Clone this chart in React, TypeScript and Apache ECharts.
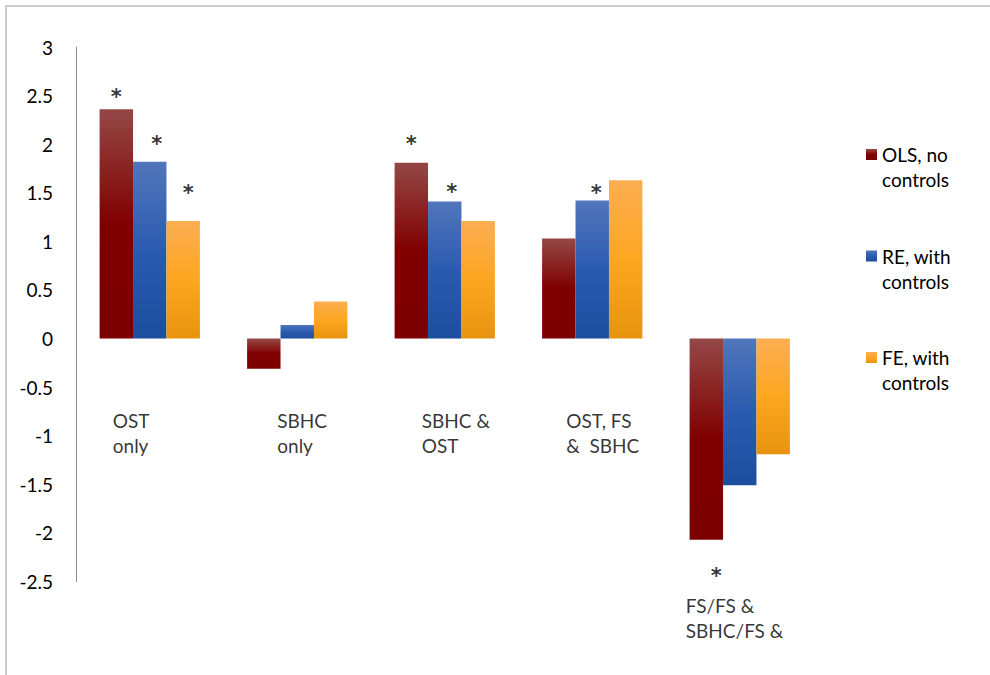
import React, { useEffect, useRef } from "react";
import * as echarts from "echarts";

const CATEGORIES = ["OST only", "SBHC only", "SBHC & OST", "OST, FS & SBHC", "FS/FS & SBHC/FS &"];
const CATEGORY_TEXT = ["OST\nonly", "SBHC\nonly", "SBHC &\nOST", "OST, FS\n&  SBHC", "FS/FS &\nSBHC/FS &"];
const CATEGORY_LABEL_Y = [-0.97, -0.97, -0.97, -0.97, -2.88];
const CATEGORY_LABEL_DX = [-37, -20, -23, -26, -54];

const SERIES_NAMES = ["OLS, no\ncontrols", "RE, with\ncontrols", "FE, with\ncontrols"];
const OLS = [2.36, -0.31, 1.81, 1.03, -2.07];
const RE = [1.82, 0.14, 1.41, 1.42, -1.51];
const FE = [1.21, 0.38, 1.21, 1.63, -1.19];

// significance asterisks (value level where the "*" sits)
const OLS_STAR: (number | null)[] = [2.54, null, 2.05, null, -2.39];
const RE_STAR: (number | null)[] = [2.05, null, 1.56, 1.55, null];
const FE_STAR: (number | null)[] = [1.55, null, null, null, null];
const OLS_STAR_DX = [0, 0, 0, 0, 10];
const RE_STAR_DX = [7, 0, 7, 4, 0];
const FE_STAR_DX = [5, 0, 0, 0, 0];

const Y_MIN = -2.5;
const Y_MAX = 3;
const Y_INTERVAL = 0.5;

const FONT = "Lato";

const grad = (c0: string, c1: string, c2: string) =>
  new echarts.graphic.LinearGradient(0, 0, 0, 1, [
    { offset: 0, color: c0 },
    { offset: 0.5, color: c1 },
    { offset: 1, color: c2 },
  ]);

export default function App() {
  const ref = useRef<HTMLDivElement>(null);
  useEffect(() => {
    if (!ref.current) return;
    const chart = echarts.init(ref.current, null, { renderer: "svg" });
    const colors = [
      grad("#944846", "#800000", "#7c0000"),
      grad("#5076bb", "#2b5bb0", "#1d4d9d"),
      grad("#fbae52", "#fda620", "#e8930e"),
    ];
    const values = [OLS, RE, FE];
    const stars = [OLS_STAR, RE_STAR, FE_STAR];
    const starDx = [OLS_STAR_DX, RE_STAR_DX, FE_STAR_DX];
    const barShift = [-33.4, 0, 33.4];

    const barSeries = SERIES_NAMES.map((name, i) => ({
      type: "bar",
      name,
      data: values[i],
      barGap: "0%",
      barCategoryGap: "32%",
      itemStyle: { color: colors[i] },
      z: 2,
    }));

    const starSeries = stars.map((arr, i) => ({
      type: "scatter",
      name: "star" + i,
      symbolSize: 0,
      clip: false,
      silent: true,
      z: 5,
      data: arr
        .map((v, j) => (v == null ? null : { value: [j, v], label: { offset: [barShift[i] + starDx[i][j], 5] } }))
        .filter((d) => d != null),
      label: {
        show: true,
        position: "inside",
        formatter: "*",
        fontFamily: "DejaVu Sans",
        fontWeight: "bold",
        fontSize: 21,
        color: "#000",
        align: "center",
        verticalAlign: "middle",
      },
    }));

    const catLabelSeries = {
      type: "scatter",
      name: "catlabels",
      symbolSize: 0,
      clip: false,
      silent: true,
      z: 5,
      data: CATEGORY_TEXT.map((t, j) => ({
        value: [j, CATEGORY_LABEL_Y[j]],
        name: t,
        label: { offset: [CATEGORY_LABEL_DX[j], 0] },
      })),
      label: {
        show: true,
        position: "inside",
        formatter: (p: any) => p.name,
        fontFamily: FONT,
        fontSize: 19,
        lineHeight: 25,
        color: "#000",
        align: "left",
        verticalAlign: "middle",
      },
    };

    const legendTops = [117, 218.5, 320];

    chart.setOption({
      animation: false,
      backgroundColor: "#fff",
      textStyle: { fontFamily: FONT },
      grid: { left: 76, top: 47, right: 176.5, bottom: 93.5, containLabel: false },
      xAxis: {
        type: "category",
        data: CATEGORIES,
        axisLine: { show: false },
        axisTick: { show: false },
        axisLabel: { show: false },
        splitLine: { show: false },
      },
      yAxis: {
        type: "value",
        min: Y_MIN,
        max: Y_MAX,
        interval: Y_INTERVAL,
        axisLine: { show: true, lineStyle: { color: "#8c8c8c", width: 1 } },
        axisTick: { show: false },
        splitLine: { show: false },
        axisLabel: { fontFamily: FONT, fontSize: 19, color: "#000", margin: 23 },
      },
      legend: SERIES_NAMES.map((n, i) => ({
        data: [n],
        orient: "vertical",
        left: 866,
        top: legendTops[i],
        padding: 0,
        itemWidth: 11,
        itemHeight: 11,
        itemGap: 0,
        icon: "rect",
        selectedMode: false,
        formatter: (name: string) => "\n" + name,
        textStyle: {
          fontFamily: FONT,
          fontSize: 19,
          color: "#000",
          lineHeight: 25,
        },
      })),
      graphic: [
        {
          type: "rect",
          shape: { x: 6, y: 6, width: 1100, height: 1000 },
          style: { fill: "none", stroke: "#bdbdbd", lineWidth: 1.5 },
          silent: true,
        },
      ],
      series: [...barSeries, ...starSeries, catLabelSeries],
    });
    return () => chart.dispose();
  }, []);
  return <div ref={ref} style={{ position: "fixed", left: 0, top: 0, width: 990, height: 675 }} />;
}
